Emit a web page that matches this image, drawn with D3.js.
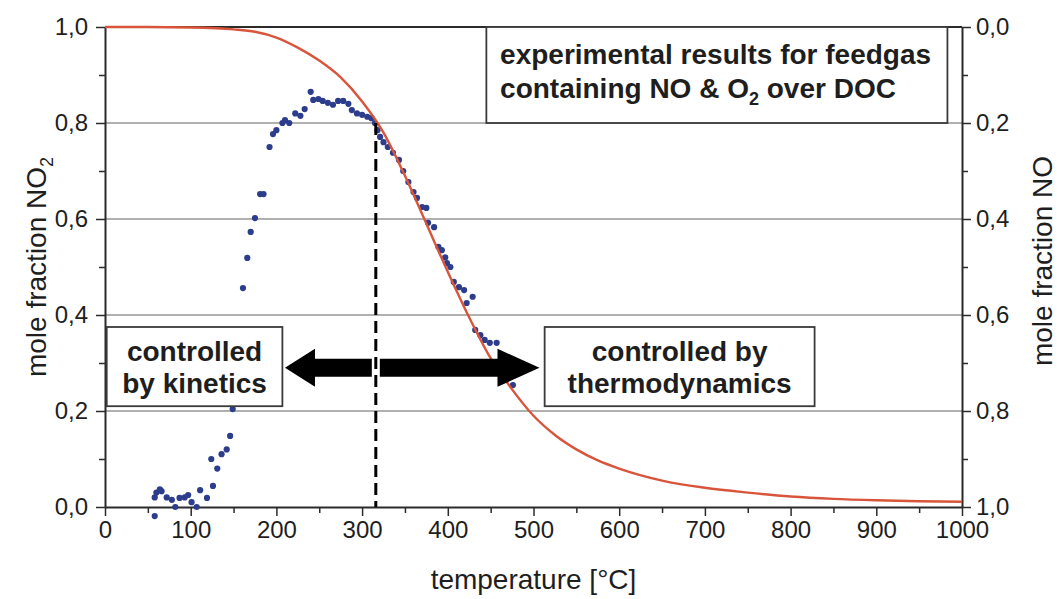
<!DOCTYPE html>
<html>
<head>
<meta charset="utf-8">
<script src="https://cdn.jsdelivr.net/npm/d3@7"></script>
<style>
  html, body { margin: 0; padding: 0; background: #fff; }
  svg { display: block; font-family: "Liberation Sans", Arial, sans-serif; }
</style>
</head>
<body>
<svg id="chart" width="1058" height="599"></svg>
<script>
// Equilibrium NO2 mole fraction vs temperature (thermodynamic curve)
const eqTemp = [0, 50, 100, 150, 175, 200, 225, 250, 275, 300, 325, 350, 375, 400, 425, 450, 475, 500, 525, 550, 575, 600, 650, 700, 750, 800, 850, 900, 950, 1000];
const eqNO2 = [1.0, 1.0, 0.999, 0.995, 0.99, 0.978, 0.957, 0.93, 0.895, 0.845, 0.78, 0.69, 0.59, 0.49, 0.395, 0.31, 0.245, 0.19, 0.15, 0.12, 0.097, 0.08, 0.055, 0.04, 0.03, 0.022, 0.017, 0.014, 0.012, 0.011];

// Measured NO2 mole fraction over the DOC
const measTemp = [58, 58, 60, 64, 66, 72, 78, 82, 87, 93, 97, 101, 107, 111, 119, 124, 126, 131, 136, 142, 146, 149,
  161, 166, 170, 175, 181, 185, 192, 196, 200, 207, 210, 215, 222, 228, 233, 240, 243, 249, 254, 260, 266, 272, 278,
  284, 288, 294, 300, 306, 311, 315, 318, 321, 325, 330, 336, 343, 348, 354, 360, 364, 370, 375, 377, 384, 389, 393,
  397, 399, 403, 407, 413, 419, 422, 429, 432, 438, 443, 449, 457, 476];
const measNO2 = [-0.019, 0.02, 0.03, 0.037, 0.033, 0.02, 0.015, 0.0, 0.019, 0.02, 0.025, 0.01, 0.0, 0.035, 0.019, 0.1, 0.044, 0.08, 0.11, 0.12, 0.148, 0.204,
  0.456, 0.519, 0.573, 0.602, 0.652, 0.652, 0.75, 0.777, 0.785, 0.80, 0.806, 0.80, 0.82, 0.815, 0.829, 0.865, 0.848, 0.85, 0.846, 0.842, 0.838, 0.846, 0.846,
  0.84, 0.827, 0.82, 0.817, 0.813, 0.81, 0.80, 0.785, 0.771, 0.76, 0.75, 0.738, 0.723, 0.70, 0.677, 0.656, 0.644, 0.625, 0.623, 0.592, 0.583, 0.542, 0.535,
  0.52, 0.508, 0.50, 0.469, 0.458, 0.452, 0.425, 0.438, 0.369, 0.358, 0.348, 0.342, 0.342, 0.254];

// Axis ticks
const xTicks = [0, 100, 200, 300, 400, 500, 600, 700, 800, 900, 1000];
const yTicks = [0, 0.2, 0.4, 0.6, 0.8, 1.0];
const gridValues = [0.2, 0.4, 0.6, 0.8];

// Annotation anchors (in data units)
const crossoverTemp = 316;
const crossoverNO2 = 0.8;

const svg = d3.select("#chart");
const margin = { top: 27, right: 96, bottom: 92, left: 105 };
const W = 1058, H = 599;
const iw = W - margin.left - margin.right;
const ih = H - margin.top - margin.bottom;

const x = d3.scaleLinear().domain([0, 1000]).range([margin.left, margin.left + iw]);
const y = d3.scaleLinear().domain([0, 1]).range([margin.top + ih, margin.top]);
const yR = d3.scaleLinear().domain([0, 1]).range([margin.top, margin.top + ih]);

const fmt = v => d3.format(".1f")(v).replace(".", ",");
const textColor = "#1e1e1e";
const axisColor = "#2b2b2b";
const tickFont = 24;
const titleFont = 28;
const boxFont = 28;

// grid lines
svg.append("g").selectAll("line").data(gridValues).join("line")
  .attr("x1", x(0)).attr("x2", x(1000))
  .attr("y1", d => y(d)).attr("y2", d => y(d))
  .attr("stroke", "#b0b0b0").attr("stroke-width", 2);

// top frame line
svg.append("line")
  .attr("x1", x(0)).attr("x2", x(1000))
  .attr("y1", y(1)).attr("y2", y(1))
  .attr("stroke", axisColor).attr("stroke-width", 2);

function styleAxis(g) {
  g.selectAll(".domain").attr("stroke", axisColor).attr("stroke-width", 2);
  g.selectAll(".tick line").attr("stroke", axisColor).attr("stroke-width", 1.5);
  g.selectAll(".tick text").attr("fill", textColor).attr("font-size", tickFont);
}

// minor ticks
const minorX = d3.range(50, 1000, 100);
const minorY = d3.range(0.1, 1.0, 0.2);

function minor(g) {
  g.select(".domain").remove();
  g.selectAll(".tick line").attr("stroke", axisColor).attr("stroke-width", 1.5);
}
svg.append("g")
  .attr("transform", `translate(0,${y(0)})`)
  .call(d3.axisBottom(x).tickValues(minorX).tickSize(6).tickFormat(""))
  .call(minor);
svg.append("g")
  .attr("transform", `translate(${x(0)},0)`)
  .call(d3.axisLeft(y).tickValues(minorY).tickSize(6).tickFormat(""))
  .call(minor);
svg.append("g")
  .attr("transform", `translate(${x(1000)},0)`)
  .call(d3.axisRight(yR).tickValues(minorY).tickSize(6).tickFormat(""))
  .call(minor);

// major axes
svg.append("g")
  .attr("transform", `translate(0,${y(0)})`)
  .call(d3.axisBottom(x).tickValues(xTicks).tickSize(9).tickSizeOuter(0).tickPadding(5).tickFormat(d3.format("d")))
  .call(styleAxis);
svg.append("g")
  .attr("transform", `translate(${x(0)},0)`)
  .call(d3.axisLeft(y).tickValues(yTicks).tickSize(9).tickSizeOuter(0).tickPadding(8).tickFormat(fmt))
  .call(styleAxis);
svg.append("g")
  .attr("transform", `translate(${x(1000)},0)`)
  .call(d3.axisRight(yR).tickValues(yTicks).tickSize(9).tickSizeOuter(0).tickPadding(5).tickFormat(fmt))
  .call(styleAxis);

// measured points
const pts = measTemp.map((t, i) => ({ t, v: measNO2[i] }));
svg.append("g").selectAll("circle").data(pts).join("circle")
  .attr("cx", d => x(d.t)).attr("cy", d => y(d.v)).attr("r", 3.1)
  .attr("fill", "#2c3d8c");

// equilibrium curve
const eq = eqTemp.map((t, i) => ({ t, v: eqNO2[i] }));
svg.append("path").datum(eq)
  .attr("d", d3.line().x(d => x(d.t)).y(d => y(d.v)).curve(d3.curveMonotoneX))
  .attr("fill", "none").attr("stroke", "#d8553b").attr("stroke-width", 2.4);

// double arrow between the two regimes
const arrowY = y(0.29);
const aL = x(210), aR = x(507);
const shaftH = 9, headH = 19, headL = 30, headR = 42;
svg.append("path")
  .attr("d", `M${aL},${arrowY} L${aL + headL},${arrowY - headH} L${aL + headL},${arrowY - shaftH}
              L${aR - headR},${arrowY - shaftH} L${aR - headR},${arrowY - headH} L${aR},${arrowY}
              L${aR - headR},${arrowY + headH} L${aR - headR},${arrowY + shaftH}
              L${aL + headL},${arrowY + shaftH} L${aL + headL},${arrowY + headH} Z`)
  .attr("fill", "#000");

// white break where the dashed line crosses the arrow
svg.append("rect")
  .attr("x", x(crossoverTemp) - 4).attr("width", 8)
  .attr("y", arrowY - shaftH - 1).attr("height", 2 * shaftH + 2)
  .attr("fill", "#fff");

// dashed crossover line
svg.append("line")
  .attr("x1", x(crossoverTemp)).attr("x2", x(crossoverTemp))
  .attr("y1", y(crossoverNO2)).attr("y2", y(0))
  .attr("stroke", "#000").attr("stroke-width", 3)
  .attr("stroke-dasharray", "12,6");

// annotation boxes
function box(t0, t1, v0, v1) {
  svg.append("rect")
    .attr("x", x(t0)).attr("y", y(v1))
    .attr("width", x(t1) - x(t0)).attr("height", y(v0) - y(v1))
    .attr("fill", "#fff").attr("stroke", "#3a3a3a").attr("stroke-width", 1.8);
}

box(445, 983, 0.8, 1.0);
const tb = svg.append("text").attr("font-size", boxFont).attr("font-weight", "bold").attr("fill", textColor);
tb.append("tspan").attr("x", x(461)).attr("y", 64).text("experimental results for feedgas");
tb.append("tspan").attr("x", x(461)).attr("y", 98).text("containing NO & O");
tb.append("tspan").attr("dy", 7).attr("font-size", 18).text("2");
tb.append("tspan").attr("dy", -7).text(" over DOC");

box(2, 207, 0.21, 0.375);
const kb = svg.append("text").attr("font-size", boxFont).attr("font-weight", "bold").attr("fill", textColor).attr("text-anchor", "middle");
kb.append("tspan").attr("x", (x(2) + x(207)) / 2).attr("y", 361).text("controlled");
kb.append("tspan").attr("x", (x(2) + x(207)) / 2).attr("y", 393).text("by kinetics");

box(513, 828, 0.21, 0.375);
const hb = svg.append("text").attr("font-size", boxFont).attr("font-weight", "bold").attr("fill", textColor).attr("text-anchor", "middle");
hb.append("tspan").attr("x", (x(513) + x(828)) / 2).attr("y", 361).text("controlled by");
hb.append("tspan").attr("x", (x(513) + x(828)) / 2).attr("y", 393).text("thermodynamics");

// axis titles
svg.append("text")
  .attr("x", (x(0) + x(1000)) / 2).attr("y", 589)
  .attr("text-anchor", "middle").attr("font-size", titleFont).attr("fill", textColor)
  .text("temperature [°C]");

const yl = svg.append("text")
  .attr("transform", `translate(46,${(y(0) + y(1)) / 2}) rotate(-90)`)
  .attr("text-anchor", "middle").attr("font-size", titleFont).attr("fill", textColor);
yl.append("tspan").text("mole fraction NO");
yl.append("tspan").attr("dy", 7).attr("font-size", 18).text("2");

svg.append("text")
  .attr("transform", `translate(1052,${(y(0) + y(1)) / 2 - 6}) rotate(-90)`)
  .attr("text-anchor", "middle").attr("font-size", titleFont).attr("fill", textColor)
  .text("mole fraction NO");
</script>
</body>
</html>
